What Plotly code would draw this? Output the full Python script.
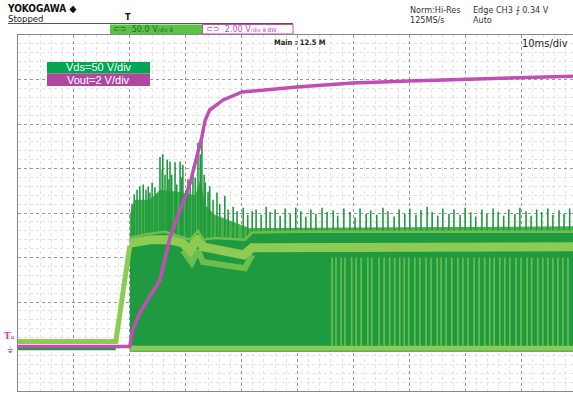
import plotly.graph_objects as go

W, H = 573, 394
L, T, B = 18, 35, 3

# ---------------- data (ms, volts) ----------------
vout_t = [0, 20.0, 20.5, 21.8, 25.4, 27.2, 30.8, 32.9, 33.5, 34.3, 36.7, 40.1, 49.9, 59.9, 70.1, 80.3, 90.3, 99.3]
vout_v = [0, 0, 0.74, 1.51, 2.99, 4.92, 7.35, 9.42, 10.18, 10.63, 11.08, 11.44, 11.66, 11.84, 11.93, 12.02, 12.11, 12.15]

vds_pre_t = [0, 17.5, 20.0]
vds_pre_v = [5.5, 5.5, 113]
vds_pre_low_t = [0, 17.5]
vds_pre_low_v = [-2, -2]

sw_t = [20.0, 99.3]
sw_low_v = [-6, -6]
floor_v = [-2, -2]

top_t = [20.0, 22.7, 26.3, 29.0, 30.8, 32.2, 33.1, 35.2, 40.6, 41.9, 50.4, 99.3]
top_v = [122, 126, 129, 124, 120, 130, 120, 122, 120, 128, 129, 129]

bandB_t = [20.0, 23.6, 27.2, 29.5, 30.8, 32.2, 33.1, 36.1, 40.4, 41.9, 68.3, 99.3]
bandB_v = [116, 120, 120, 116, 108, 123, 112, 108, 103, 111, 111, 112]

bandC_t = [29.5, 31.1, 32.2, 33.1, 40.6, 41.9]
bandC_v = [108, 94, 108, 95, 88, 103]

env_t = [20.0, 20.8, 23.6, 25.4, 28.6, 31.7, 32.6, 33.5, 35.2, 39.7, 41.5, 99.3]
env_v = [148, 165, 165, 176, 174, 170, 187, 159, 148, 137, 133, 135]

spike_t = [20.4, 20.8, 21.3, 21.8, 22.4, 22.9, 23.3, 23.6, 24.0, 24.5, 24.9, 25.4, 25.8, 25.9,
           26.3, 26.7, 27.0, 27.2, 27.5, 28.1, 28.4, 29.0, 29.3, 29.5, 30.1, 30.4, 30.8, 31.3,
           31.7, 32.2, 32.6, 32.9, 33.3, 33.5, 34.0, 34.3, 34.9, 35.6, 36.1, 37.0, 37.6, 38.5,
           39.2, 40.3, 41.1, 41.9, 42.6, 43.5, 44.4, 45.1, 46.0, 46.9, 47.8, 48.7, 49.7, 50.6,
           51.5, 52.4, 53.3, 54.4, 55.3, 56.4, 57.2, 58.3, 59.4, 60.3, 61.2, 62.3, 63.1, 64.2,
           65.3, 66.2, 67.3, 68.2, 69.2, 70.1, 71.2, 72.1, 73.2, 74.1, 75.1, 76.0, 77.1, 78.0,
           79.1, 80.0, 81.0, 81.9, 83.0, 83.9, 85.0, 85.9, 86.9, 87.8, 88.9, 89.8, 90.9, 91.8,
           92.8, 93.7, 94.8, 95.7, 96.8, 97.7, 98.7]
spike_v = [160, 171, 176, 180, 182, 176, 180, 173, 184, 179, 171, 213, 199, 216,
           193, 210, 188, 208, 193, 207, 182, 208, 190, 204, 176, 188, 182, 202,
           190, 229, 216, 233, 193, 184, 174, 180, 165, 173, 160, 169, 154, 157,
           152, 156, 148, 152, 154, 148, 157, 151, 154, 147, 155, 149, 156, 152,
           146, 154, 149, 156, 151, 153, 147, 155, 151, 145, 155, 149, 153, 148,
           156, 152, 146, 154, 149, 155, 148, 153, 157, 151, 147, 155, 149, 154,
           148, 156, 151, 146, 154, 149, 155, 151, 147, 154, 149, 156, 152, 147,
           154, 151, 155, 148, 153, 149, 155]

stripe_t = [56.2, 56.9, 57.8, 58.5, 59.7, 60.5, 61.4, 62.6, 63.3, 64.6, 65.5, 66.5, 67.4, 68.3,
            69.1, 69.9, 71.0, 71.9, 73.0, 73.9, 75.0, 75.7, 76.6, 77.6, 78.7, 79.6, 80.5, 81.6,
            82.5, 83.5, 84.4, 85.2, 86.2, 87.1, 88.0, 89.1, 90.0, 91.1, 91.9, 93.0, 93.9, 94.8,
            95.7, 96.6, 97.5, 98.4]
stripe_low, stripe_high = -4, 100
spike_base = 100

DARK = '#1F9A40'
MID = '#47B04A'
LIGHT = '#8DCB55'
LIGHT2 = '#6CBF4C'
MAG = '#C24DB5'

def segs(ts, lo, hi):
    xs, ys = [], []
    for i, t in enumerate(ts):
        h = hi[i] if isinstance(hi, list) else hi
        xs += [t, t, None]
        ys += [lo, h, None]
    return xs, ys

fig = go.Figure()
# switching fill
fig.add_trace(go.Scatter(x=sw_t, y=sw_low_v, mode='lines', line=dict(width=0, color=DARK), hoverinfo='skip'))
fig.add_trace(go.Scatter(x=top_t, y=top_v, mode='lines', line=dict(width=0, color=DARK),
                         fill='tonexty', fillcolor=DARK, hoverinfo='skip'))
# dense spike envelope
fig.add_trace(go.Scatter(x=top_t, y=top_v, mode='lines', line=dict(width=0), hoverinfo='skip'))
fig.add_trace(go.Scatter(x=env_t, y=env_v, mode='lines', line=dict(width=0),
                         fill='tonexty', fillcolor=MID, hoverinfo='skip'))
# stripes in right region
sx, sy = segs(stripe_t, stripe_low, stripe_high)
fig.add_trace(go.Scatter(x=sx, y=sy, mode='lines', line=dict(width=1.6, color=LIGHT2), hoverinfo='skip'))
# spikes
kx, ky = segs(spike_t, spike_base, spike_v)
fig.add_trace(go.Scatter(x=kx, y=ky, mode='lines', line=dict(width=1.6, color=DARK), hoverinfo='skip'))
# bands
fig.add_trace(go.Scatter(x=sw_t, y=floor_v, mode='lines', line=dict(width=5, color=LIGHT), hoverinfo='skip'))
fig.add_trace(go.Scatter(x=bandC_t, y=bandC_v, mode='lines', line=dict(width=6, color=LIGHT2), hoverinfo='skip'))
fig.add_trace(go.Scatter(x=bandB_t, y=bandB_v, mode='lines', line=dict(width=9, color=LIGHT), hoverinfo='skip'))
fig.add_trace(go.Scatter(x=top_t, y=top_v, mode='lines', line=dict(width=2.5, color=LIGHT2), hoverinfo='skip'))
# pre-switching Vds
fig.add_trace(go.Scatter(x=vds_pre_low_t, y=vds_pre_low_v, mode='lines', line=dict(width=4, color=DARK), hoverinfo='skip'))
fig.add_trace(go.Scatter(x=vds_pre_t, y=vds_pre_v, mode='lines', line=dict(width=5, color=LIGHT), hoverinfo='skip'))
# Vout
fig.add_trace(go.Scatter(x=vout_t, y=vout_v, mode='lines', line=dict(width=3.5, color=MAG),
                         yaxis='y2', hoverinfo='skip'))

def px(x):
    return (x - L) / (W - L)

def py(y):
    return (H - B - y) / (H - T - B)

shapes = []
annos = []

def rect(x0, y0, x1, y1, fill, line_color=None, lw=0):
    shapes.append(dict(type='rect', xref='paper', yref='paper', x0=px(x0), x1=px(x1), y0=py(y1), y1=py(y0),
                       fillcolor=fill, line=dict(width=lw, color=line_color or fill), layer='above'))

def text(x, y, s, size, color='#222', family='DejaVu Sans Condensed', xa='left', ya='middle', bold=False):
    if bold:
        s = '<b>' + s + '</b>'
    annos.append(dict(xref='paper', yref='paper', x=px(x), y=py(y), text=s, showarrow=False,
                      xanchor=xa, yanchor=ya, font=dict(size=size, color=color, family=family),
                      borderpad=0, borderwidth=0))

# header
text(7, 8, 'YOKOGAWA ◆', 10, '#111', bold=True)
text(8, 19, 'Stopped', 9.5, '#222')
shapes.append(dict(type='line', xref='paper', yref='paper', x0=px(8), x1=px(293), y0=py(23.5), y1=py(23.5),
                   line=dict(color='#555', width=1)))
text(127.5, 17, 'T', 9, '#111', xa='center', bold=True)
rect(110, 24.5, 202, 34, '#5CC247')
text(113, 29.5, '⊂⊃  50.0 V<span style="font-size:6px">/div ⅲ</span>', 9, '#1E6F1E')
rect(202.5, 24.5, 293, 34, 'white', MAG, 1)
text(206, 29.5, '⊂⊃  2.00 V<span style="font-size:6px">/div ⅲ BW</span>', 9, MAG)
text(410, 10, 'Norm:Hi-Res', 9, '#333')
text(410, 20, '125MS/s', 9, '#333')
text(473, 10, 'Edge CH3 ⨍ 0.34 V', 9, '#333')
text(473, 20, 'Auto', 9, '#333')
text(274, 42.5, 'Main : 12.5 M', 7.5, '#222', bold=True)
text(568, 43, '10ms/div', 11, '#222', xa='right')
# channel legend boxes
rect(47, 62, 150, 73.5, '#00A651')
rect(47, 73.5, 150, 86, '#B0489F')
text(98.5, 67.3, 'Vds=50 V/div', 11, 'white', family='Liberation Sans', xa='center')
text(98.5, 80.3, 'Vout=2 V/div', 11, 'white', family='Liberation Sans', xa='center')
# left markers
text(9, 336, 'T<span style="font-size:5px">n</span>', 9, MAG, family='DejaVu Serif', xa='center', bold=True)
text(10, 350, '⏚', 9, '#9a7fb0', family='DejaVu Sans', xa='center')

grid_major = '#9a9a9a'
grid_minor = '#e2e2e2'

fig.update_layout(
    width=W, height=H,
    margin=dict(l=L, r=0, t=T, b=B, pad=0, autoexpand=False),
    paper_bgcolor='white', plot_bgcolor='white',
    showlegend=False,
    xaxis=dict(range=[0, 99.3], dtick=10, tick0=0, showgrid=True, gridcolor=grid_major, griddash='dot',
               gridwidth=1, showticklabels=False, ticks='', zeroline=False,
               showline=True, linecolor='#888', mirror=True, linewidth=1,
               minor=dict(dtick=2, showgrid=True, gridcolor=grid_minor, gridwidth=1)),
    yaxis=dict(range=[-50, 350], dtick=50, tick0=0, showgrid=True, gridcolor=grid_major, griddash='dot',
               gridwidth=1, showticklabels=False, ticks='', zeroline=False,
               showline=True, linecolor='#888', mirror=True, linewidth=1,
               minor=dict(dtick=10, showgrid=True, gridcolor=grid_minor, gridwidth=1)),
    yaxis2=dict(range=[-2, 14], overlaying='y', showgrid=False, showticklabels=False, zeroline=False,
                ticks='', showline=False),
    shapes=shapes, annotations=annos,
)

fig.write_html('out.html', config={'displayModeBar': False},
               post_script="document.body.style.margin='0';document.body.style.overflow='hidden';")
